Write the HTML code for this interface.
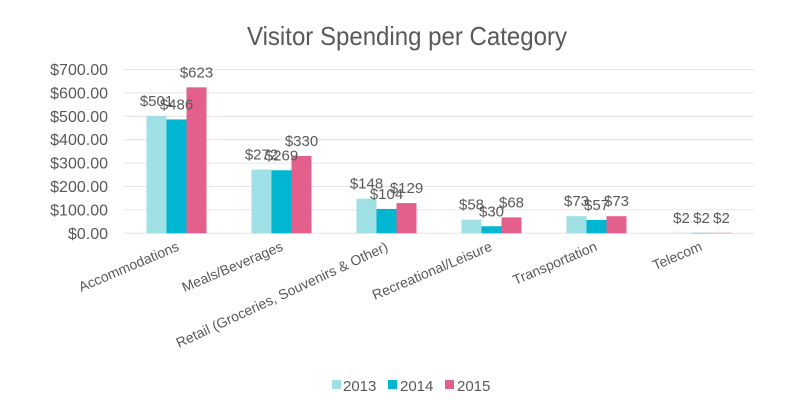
<!DOCTYPE html>
<html><head><meta charset="utf-8"><style>
html,body{margin:0;padding:0;background:#fff;}
svg{display:block;font-family:"Liberation Sans",sans-serif;}
</style></head><body>
<svg width="800" height="414" viewBox="0 0 800 414" xmlns="http://www.w3.org/2000/svg">
<rect width="800" height="414" fill="#fff"/>
<text x="407" y="45" font-size="26" fill="#595959" text-anchor="middle" textLength="320" lengthAdjust="spacingAndGlyphs">Visitor Spending per Category</text>
<g stroke="#e6e6e6" stroke-width="1">
<line x1="124" x2="754" y1="69.5" y2="69.5"/>
<line x1="124" x2="754" y1="92.9" y2="92.9"/>
<line x1="124" x2="754" y1="116.3" y2="116.3"/>
<line x1="124" x2="754" y1="139.7" y2="139.7"/>
<line x1="124" x2="754" y1="163.1" y2="163.1"/>
<line x1="124" x2="754" y1="186.5" y2="186.5"/>
<line x1="124" x2="754" y1="209.9" y2="209.9"/>
<line x1="124" x2="754" y1="233.3" y2="233.3"/>
</g>
<g font-size="16" fill="#595959" text-anchor="end">
<text x="108" y="75">$700.00</text>
<text x="108" y="98.4">$600.00</text>
<text x="108" y="121.8">$500.00</text>
<text x="108" y="145.2">$400.00</text>
<text x="108" y="168.6">$300.00</text>
<text x="108" y="192">$200.00</text>
<text x="108" y="215.4">$100.00</text>
<text x="108" y="238.8">$0.00</text>
</g>
<g id="bars"></g>
<g font-size="15" fill="#595959" text-anchor="middle" id="labels"></g>
<g font-size="14" fill="#595959" text-anchor="end">
<text transform="translate(180,250) rotate(-23)">Accommodations</text>
<text transform="translate(284,250) rotate(-23)">Meals/Beverages</text>
<text transform="translate(389,250) rotate(-25)">Retail (Groceries, Souvenirs &amp; Other)</text>
<text transform="translate(493,250) rotate(-23)">Recreational/Leisure</text>
<text transform="translate(598,250) rotate(-23)">Transportation</text>
<text transform="translate(703,250) rotate(-23)">Telecom</text>
</g>
<g font-size="15" fill="#595959">
<rect x="332" y="380" width="9" height="9" fill="#9ee0e3"/><text x="343" y="391">2013</text>
<rect x="388" y="380" width="9" height="9" fill="#00b6d0"/><text x="400" y="391">2014</text>
<rect x="445" y="380" width="9" height="9" fill="#e4608c"/><text x="457" y="391">2015</text>
</g>
<script>
var d=[[501,486,623],[272,269,330],[148,104,129],[58,30,68],[73,57,73],[2,2,2]];
var c=["#9ee0e3","#00b6d0","#e4608c"];
var ns="http://www.w3.org/2000/svg",b=document.getElementById("bars"),l=document.getElementById("labels");
for(var i=0;i<6;i++)for(var j=0;j<3;j++){
var v=d[i][j],x=146.5+105*i+20*j,h=v*0.2343,y=233.3-h;
var r=document.createElementNS(ns,"rect");r.setAttribute("x",x);r.setAttribute("y",y);r.setAttribute("width",20);r.setAttribute("height",h);r.setAttribute("fill",c[j]);b.appendChild(r);
var t=document.createElementNS(ns,"text");t.setAttribute("x",x+10);t.setAttribute("y",y-10);t.textContent="$"+v;l.appendChild(t);}
</script>
</svg>
</body></html>
